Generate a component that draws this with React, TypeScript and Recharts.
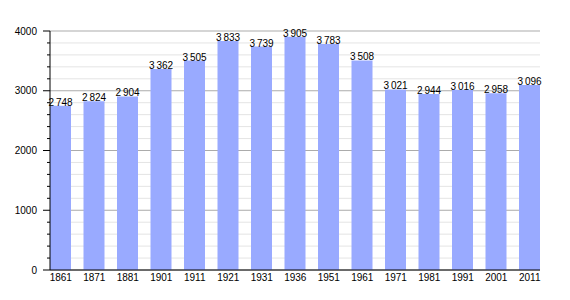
import React from 'react';
import { BarChart, Bar, XAxis, YAxis, CartesianGrid, LabelList } from 'recharts';

const years = ['1861', '1871', '1881', '1901', '1911', '1921', '1931', '1936', '1951', '1961', '1971', '1981', '1991', '2001', '2011'];
const population = [2748, 2824, 2904, 3362, 3505, 3833, 3739, 3905, 3783, 3508, 3021, 2944, 3016, 2958, 3096];
const minorTicks = [0, 200, 400, 600, 800, 1000, 1200, 1400, 1600, 1800, 2000, 2200, 2400, 2600, 2800, 3000, 3200, 3400, 3600, 3800, 4000];
const majorTicks = [0, 1000, 2000, 3000, 4000];

const data = years.map((y, i) => ({ year: y, value: population[i] }));

const FONT = '"Liberation Sans", Arial, sans-serif';

const fmt = (v: number) => String(v).replace(/\B(?=(\d{3})+(?!\d))/g, '\u2009');

const YTick = (props: any) => {
  const { x, y, payload } = props;
  const v = payload.value as number;
  const major = majorTicks.includes(v);
  return (
    <g>
      <line x1={x - (major ? 7 : 3)} x2={x} y1={y} y2={y} stroke="#000" strokeWidth={1} />
      {major && (
        <text x={x - 13} y={y} dy="0.35em" textAnchor="end" fontSize={10} fontFamily={FONT} fill="#000">
          {v}
        </text>
      )}
    </g>
  );
};

const GridLine = (p: any) => {
  const major = p.index % 5 === 0;
  return (
    <line
      x1={p.x1}
      x2={p.x2}
      y1={p.y1}
      y2={p.y2}
      stroke={major ? '#ababab' : '#e4e4e4'}
      strokeWidth={1}
      fill="none"
    />
  );
};

export default function App() {
  return (
    <div style={{ position: 'absolute', left: 0, top: 0, background: '#fff' }}>
      <BarChart width={570} height={300} data={data} margin={{ top: 31, right: 30, bottom: 0, left: 0 }}>
        <CartesianGrid vertical={false} horizontal={GridLine as any} />
        <XAxis
          dataKey="year"
          height={30}
          padding={{ left: -6, right: -6.5 }}
          axisLine={{ stroke: '#000' }}
          tickLine={false}
          tickSize={4}
          tickMargin={0}
          interval={0}
          tick={{ fontSize: 10, fontFamily: FONT, fill: '#000' }}
        />
        <YAxis
          width={50}
          domain={[0, 4000]}
          ticks={minorTicks}
          interval={0}
          tickSize={0}
          tickMargin={0}
          tickLine={false}
          axisLine={{ stroke: '#000' }}
          tick={<YTick />}
        />
        <Bar dataKey="value" fill="#99aaff" barSize={21} isAnimationActive={false}>
          <LabelList
            dataKey="value"
            position="top"
            offset={0}
            formatter={(v: any) => fmt(Number(v))}
            style={{ fontSize: 10, fontFamily: FONT, fill: '#000' }}
          />
        </Bar>
      </BarChart>
    </div>
  );
}
